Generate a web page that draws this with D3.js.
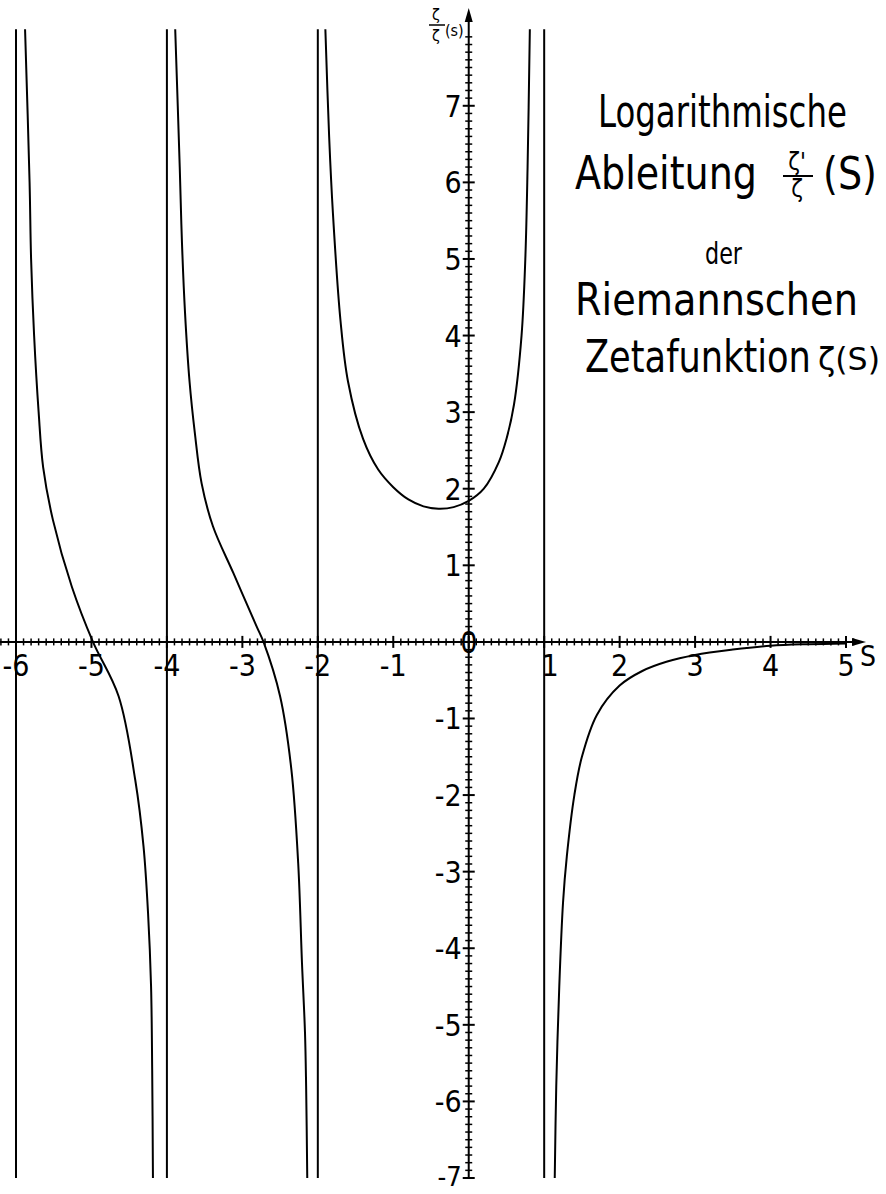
<!DOCTYPE html>
<html>
<head>
<meta charset="utf-8">
<script src="https://cdn.jsdelivr.net/npm/d3@7"></script>
<style>
  body { margin: 0; background: #fff; }
  svg text { font-family: "Liberation Sans Narrow", "DejaVu Sans Condensed", "Liberation Sans", sans-serif; fill: #000; }
</style>
</head>
<body>
<svg id="chart"></svg>
<script>
// branches of zeta'/zeta(s)
var branch1S = [-5.88, -5.82, -5.80, -5.76, -5.70, -5.64, -5.51, -5.26, -4.98, -4.64, -4.42, -4.31, -4.25, -4.21, -4.195, -4.185];
var branch1Y = [8.0, 6.0, 5.0, 4.0, 3.0, 2.28, 1.59, 0.72, 0.0, -0.71, -1.80, -2.67, -3.54, -4.50, -5.60, -7.0];

var branch2S = [-3.89, -3.83, -3.80, -3.76, -3.70, -3.63, -3.54, -3.39, -3.12, -2.81, -2.72, -2.50, -2.35, -2.26, -2.21, -2.17, -2.155, -2.14];
var branch2Y = [8.0, 6.2, 5.2, 4.3, 3.4, 2.73, 2.07, 1.51, 0.90, 0.20, 0.0, -0.71, -1.67, -2.89, -4.19, -5.10, -5.80, -7.0];

var branch3S = [-1.90, -1.85, -1.80, -1.70, -1.60, -1.40, -1.20, -1.00, -0.80, -0.60, -0.40, -0.20, 0.00, 0.20, 0.40, 0.50, 0.60, 0.70, 0.75, 0.78, 0.81];
var branch3Y = [8.0, 6.6, 5.6, 4.20, 3.40, 2.65, 2.25, 2.02, 1.86, 1.77, 1.74, 1.76, 1.84, 2.00, 2.35, 2.65, 3.10, 4.00, 5.00, 6.20, 8.0];

var branch4S = [1.14, 1.16, 1.20, 1.25, 1.30, 1.40, 1.50, 1.70, 2.00, 2.30, 2.62, 3.00, 3.50, 4.00, 4.50, 5.00];
var branch4Y = [-7.0, -5.8, -4.5, -3.4, -2.8, -2.0, -1.5, -0.95, -0.57, -0.38, -0.26, -0.17, -0.10, -0.05, -0.03, -0.02];

var poles = [-6, -4, -2, 1];
var xTickLabels = [-6, -5, -4, -3, -2, -1, 1, 2, 3, 4, 5];
var yTickLabels = [-7, -6, -5, -4, -3, -2, -1, 1, 2, 3, 4, 5, 6, 7];

var width = 886, height = 1194;
var svg = d3.select("#chart").attr("width", width).attr("height", height);

var x = d3.scaleLinear().domain([-6, 5]).range([16, 846]);
var y = d3.scaleLinear().domain([-7, 8]).range([1178, 29.2]);

// poles (vertical lines)
svg.selectAll(".pole")
    .data(poles)
    .enter().append("line")
    .attr("x1", d => x(d)).attr("x2", d => x(d))
    .attr("y1", y(8)).attr("y2", y(-7))
    .attr("stroke", "#000").attr("stroke-width", 2);

// x axis
var x0 = x(0), y0 = y(0);
svg.append("line")
    .attr("x1", 0).attr("x2", 860)
    .attr("y1", y0).attr("y2", y0)
    .attr("stroke", "#000").attr("stroke-width", 2);
svg.append("path")
    .attr("d", "M 866 " + y0 + " L 852 " + (y0 - 4) + " L 852 " + (y0 + 4) + " Z")
    .attr("fill", "#000");

var xMinor = d3.range(-62, 52).map(i => i / 10).filter(d => Math.abs(d - Math.round(d)) > 1e-6);
svg.selectAll(".xminor")
    .data(xMinor)
    .enter().append("line")
    .attr("x1", d => x(d)).attr("x2", d => x(d))
    .attr("y1", y0 - 3.5).attr("y2", y0 + 3.5)
    .attr("stroke", "#000").attr("stroke-width", 1.5);
svg.selectAll(".xmajor")
    .data(d3.range(-6, 6))
    .enter().append("line")
    .attr("x1", d => x(d)).attr("x2", d => x(d))
    .attr("y1", y0 - 6).attr("y2", y0 + 6)
    .attr("stroke", "#000").attr("stroke-width", 2);

svg.selectAll(".xlab")
    .data(xTickLabels)
    .enter().append("text")
    .attr("x", d => d === 1 ? x(d) + 6 : x(d))
    .attr("y", 676)
    .attr("text-anchor", "middle")
    .attr("font-size", 30)
    .text(d => d < 0 ? "-" + Math.abs(d) : d);

svg.append("text")
    .attr("x", 860).attr("y", 666)
    .attr("font-size", 28)
    .text("S");

svg.append("text")
    .attr("x", x0).attr("y", y0 + 11)
    .attr("text-anchor", "middle")
    .attr("font-size", 30)
    .text("0");

// y axis
svg.append("line")
    .attr("x1", x0).attr("x2", x0)
    .attr("y1", y(-7)).attr("y2", 16)
    .attr("stroke", "#000").attr("stroke-width", 2);
svg.append("path")
    .attr("d", "M " + x0 + " 8 L " + (x0 - 4) + " 22 L " + (x0 + 4) + " 22 Z")
    .attr("fill", "#000");

var yMinor = d3.range(-70, 81).map(i => i / 10).filter(d => Math.abs(d - Math.round(d)) > 1e-6);
svg.selectAll(".yminor")
    .data(yMinor)
    .enter().append("line")
    .attr("x1", x0 - 3.5).attr("x2", x0 + 3.5)
    .attr("y1", d => y(d)).attr("y2", d => y(d))
    .attr("stroke", "#000").attr("stroke-width", 1.5);
svg.selectAll(".ymajor")
    .data(d3.range(-7, 8))
    .enter().append("line")
    .attr("x1", x0 - 6).attr("x2", x0 + 6)
    .attr("y1", d => y(d)).attr("y2", d => y(d))
    .attr("stroke", "#000").attr("stroke-width", 2);

svg.selectAll(".ylab")
    .data(yTickLabels)
    .enter().append("text")
    .attr("x", x0 - 7)
    .attr("y", d => y(d) + (d === -7 ? 8 : 11))
    .attr("text-anchor", "end")
    .attr("font-size", d => d === -7 ? 27 : 30)
    .text(d => d < 0 ? "-" + Math.abs(d) : d);

// y axis label  zeta'/zeta (s)
svg.append("text").attr("x", 436).attr("y", 20).attr("text-anchor", "middle").attr("font-size", 16).text("ζ");
svg.append("line").attr("x1", 429).attr("x2", 445).attr("y1", 25).attr("y2", 25).attr("stroke", "#000").attr("stroke-width", 1.5);
svg.append("text").attr("x", 436).attr("y", 41).attr("text-anchor", "middle").attr("font-size", 16).text("ζ");
svg.append("text").attr("x", 445).attr("y", 36).attr("font-size", 16).text("(s)");

// curves
var line = d3.line()
    .x(d => x(d[0]))
    .y(d => y(d[1]))
    .curve(d3.curveCatmullRom.alpha(0.5));

var branches = [
    [branch1S, branch1Y],
    [branch2S, branch2Y],
    [branch3S, branch3Y],
    [branch4S, branch4Y]
];
svg.selectAll(".branch")
    .data(branches)
    .enter().append("path")
    .attr("d", b => line(d3.zip(b[0], b[1])))
    .attr("fill", "none")
    .attr("stroke", "#000")
    .attr("stroke-width", 2);

// title: each piece scaled horizontally to the width it has in the picture
function title(txt, tx, ty, size, len) {
    var t = svg.append("text")
        .attr("x", 0).attr("y", 0)
        .attr("font-size", size)
        .text(txt);
    var w = t.node().getComputedTextLength();
    t.attr("transform", "translate(" + tx + "," + ty + ") scale(" + (len / w) + ",1)");
}
title("Logarithmische", 598, 127, 44, 249);
title("Ableitung", 575, 189, 46, 182);
svg.append("text").attr("x", 797).attr("y", 170).attr("text-anchor", "middle").attr("font-size", 24).text("ζ'");
svg.append("line").attr("x1", 783).attr("x2", 813).attr("y1", 176).attr("y2", 176).attr("stroke", "#000").attr("stroke-width", 2);
svg.append("text").attr("x", 797).attr("y", 197).attr("text-anchor", "middle").attr("font-size", 24).text("ζ");
title("(S)", 823, 189, 44, 54);
title("der", 705, 264, 30, 37);
title("Riemannschen", 575, 315, 44, 283);
title("Zetafunktion", 585, 372, 44, 226);
title("ζ(S)", 818, 370, 32, 62);
</script>
</body>
</html>
